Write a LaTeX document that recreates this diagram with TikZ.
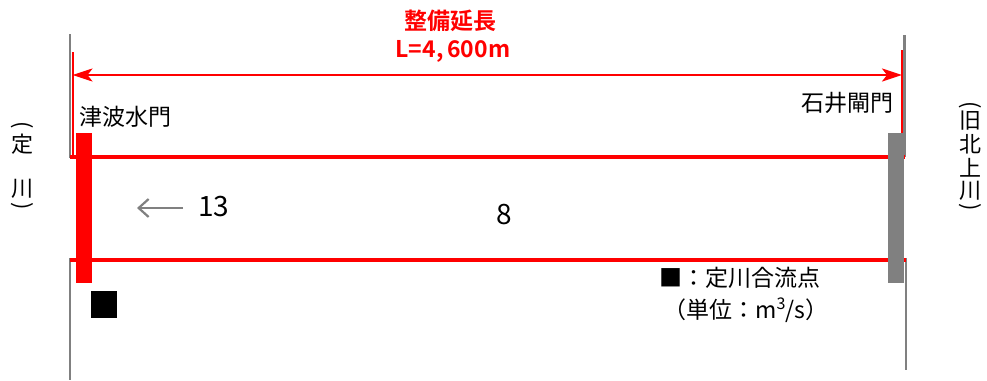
\documentclass[tikz,border=0pt]{standalone}
\usepackage{fontspec}
\usepackage{graphicx}
\setmainfont{Noto Sans CJK JP}
\newfontfamily\jpbold{Noto Sans CJK JP Bold}
\usetikzlibrary{arrows.meta}
\definecolor{rred}{RGB}{255,0,0}
\definecolor{ggray}{RGB}{128,128,128}
\tikzset{
  lbl/.style={inner sep=0pt, font=\fontsize{23}{23}\selectfont},
  vchar/.style={inner sep=0pt, font=\fontsize{22}{22}\selectfont},
  vparen/.style={inner sep=0pt, font=\fontsize{22}{22}\selectfont},
  gline/.style={draw=ggray, line width=2.5pt},
  rline/.style={draw=rred, line width=4pt},
  thinred/.style={draw=rred, line width=2pt},
  dimarrow/.style={draw=rred, line width=2.5pt, {Stealth[length=20pt,width=13pt,inset=5pt]}-{Stealth[length=20pt,width=13pt,inset=5pt]}},
  flowarrow/.style={draw=ggray, line width=2.2pt, -{Straight Barb[length=10pt,width=18pt]}},
}
\begin{document}
\begin{tikzpicture}[x=1pt,y=-1pt]
\useasboundingbox (0,0) rectangle (987,380);
% guide lines (gray)
\coordinate (lgt) at (70,34);
\coordinate (lgm) at (70,158);
\coordinate (lgb1) at (70,258);
\coordinate (lgb2) at (70,380);
\coordinate (rgt) at (904.5,35);
\coordinate (rgm) at (904.5,157);
\coordinate (rgb1) at (906,258);
\coordinate (rgb2) at (906,370);
\draw[gline] (lgt) -- (lgm);
\draw[gline] (lgb1) -- (lgb2);
\draw[gline] (rgt) -- (rgm);
\draw[gline] (rgb1) -- (rgb2);
% thin red lines
\coordinate (lrt) at (72.5,52);
\coordinate (lrb) at (72.5,157);
\coordinate (rrt) at (902,50);
\coordinate (rrb) at (902,157);
\draw[thinred] (lrt) -- (lrb);
\draw[thinred] (rrt) -- (rrb);
% river banks
\coordinate (b1l) at (70,157);
\coordinate (b1r) at (905,157);
\coordinate (b2l) at (70,259.5);
\coordinate (b2r) at (906,259.5);
\draw[rline] (b1l) -- (b1r);
\draw[rline] (b2l) -- (b2r);
% gates
\node[fill=rred, minimum width=16pt, minimum height=150pt, inner sep=0pt] (tsunami) at (84,208) {};
\node[fill=ggray, minimum width=16pt, minimum height=150pt, inner sep=0pt] (ishii) at (896,208) {};
% confluence marker
\node[fill=black, minimum width=26pt, minimum height=27pt, inner sep=0pt] (conf) at (104,304.5) {};
% dimension
\coordinate (dl) at (72.5,75);
\coordinate (dr) at (902,75);
\draw[dimarrow] (dl) -- (dr);
\node[inner sep=0pt, text=rred, font=\jpbold\fontsize{23}{23}\selectfont] (title) at (450,21) {整備延長};
\node[inner sep=0pt, text=rred, font=\jpbold\fontsize{23}{23}\selectfont] (len) at (453,51) {L=4,\,600m};
% gate labels
\node[lbl, anchor=west] (tlab) at (79,117) {津波水門};
\node[lbl, anchor=east] (ilab) at (894,103) {石井閘門};
% left vertical label
\node[vparen] (lp1) at (22,125) {\rotatebox{-90}{(}};
\node[vchar] (lc1) at (22,144) {定};
\node[vchar] (lc2) at (22,189) {川};
\node[vparen] (lp2) at (22,206) {\rotatebox{-90}{)}};
% right vertical label
\node[vparen] (rp1) at (970,105) {\rotatebox{-90}{(}};
\node[vchar] (rc1) at (970,121) {旧};
\node[vchar] (rc2) at (970,144) {北};
\node[vchar] (rc3) at (970,168) {上};
\node[vchar] (rc4) at (970,191) {川};
\node[vparen] (rp2) at (970,207) {\rotatebox{-90}{)}};
% flows
\coordinate (fa1) at (183,208);
\coordinate (fa2) at (137,208);
\draw[flowarrow] (fa1) -- (fa2);
\node[inner sep=0pt, font=\fontsize{28}{28}\selectfont, anchor=west] (q13) at (198,207) {13};
\node[inner sep=0pt, font=\fontsize{28}{28}\selectfont] (q8) at (504,215) {8};
% legend
\node[lbl, anchor=west] (leg1) at (659,278) {■：定川合流点};
\node[lbl, anchor=west] (leg2) at (663,310) {（単位：m\textsuperscript{3}/s）};
\end{tikzpicture}
\end{document}
